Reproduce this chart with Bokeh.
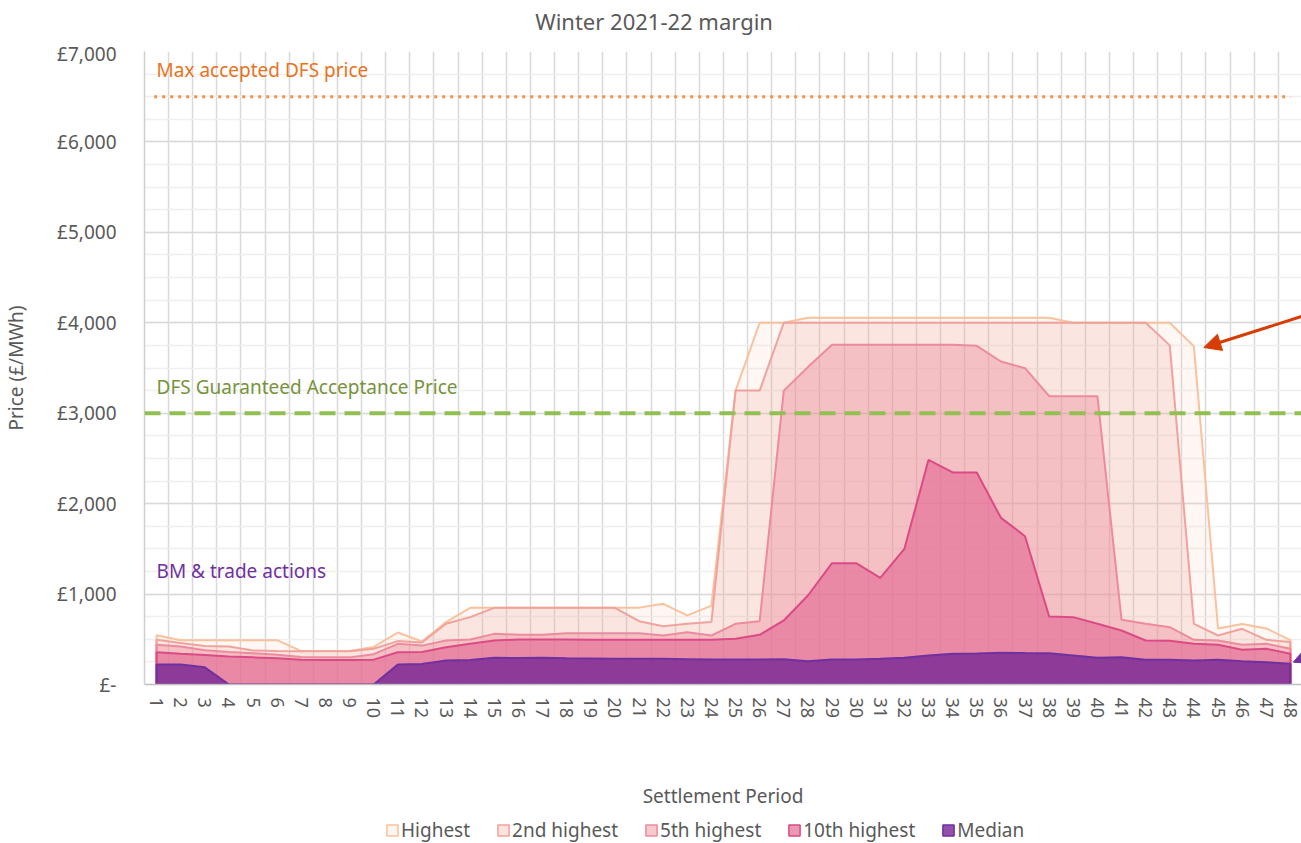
from bokeh.plotting import figure
from bokeh.layouts import column
from bokeh.models import (FixedTicker, Label, Arrow, NormalHead, Legend, LegendItem,
                          Range1d, Span)
from bokeh.embed import file_html
from bokeh.resources import INLINE

# ---------------- data ----------------
periods = list(range(1, 49))

highest = [545, 490, 490, 490, 490, 490, 370, 370, 370, 415, 575, 475,
           690, 848, 848, 848, 848, 848, 848, 848, 850, 892, 765, 873,
           3250, 4000, 4000, 4055, 4055, 4055, 4055, 4055, 4055, 4055, 4055, 4055,
           4055, 4055, 4000, 4000, 4000, 4000, 4000, 3740, 620, 670, 620, 490]

second = [495, 460, 425, 420, 375, 370, 368, 368, 368, 395, 480, 465,
          671, 745, 848, 848, 848, 848, 848, 848, 700, 645, 671, 690,
          3250, 3250, 4000, 4000, 4000, 4000, 4000, 4000, 4000, 4000, 4000, 4000,
          4000, 4000, 4000, 4000, 4000, 4000, 3750, 671, 542, 616, 494, 470]

fifth = [440, 420, 380, 360, 345, 330, 305, 300, 300, 335, 450, 430,
         487, 498, 560, 550, 550, 568, 568, 568, 568, 542, 579, 542,
         671, 700, 3250, 3510, 3757, 3757, 3757, 3757, 3757, 3757, 3745, 3572,
         3498, 3188, 3188, 3188, 715, 671, 634, 494, 487, 439, 450, 395]

tenth = [357, 340, 325, 310, 300, 290, 275, 270, 270, 275, 357, 360,
         413, 450, 487, 498, 498, 498, 495, 494, 494, 494, 494, 494,
         505, 549, 708, 984, 1342, 1342, 1180, 1500, 2485, 2345, 2345, 1843,
         1640, 752, 745, 671, 597, 487, 483, 450, 439, 384, 395, 339]

median = [221, 221, 190, 0, 0, 0, 0, 0, 0, 0, 221, 228,
          265, 270, 295, 292, 295, 290, 288, 285, 284, 284, 280, 276,
          276, 276, 278, 256, 276, 276, 284, 295, 321, 339, 342, 350,
          347, 345, 321, 295, 302, 275, 273, 266, 273, 258, 247, 229]

series_names = ["Highest", "2nd highest", "5th highest", "10th highest", "Median"]

y_ticks = [0, 1000, 2000, 3000, 4000, 5000, 6000, 7000]
y_tick_labels = ["£-", "£1,000", "£2,000", "£3,000", "£4,000", "£5,000", "£6,000", "£7,000"]

max_dfs_price = 6500
guaranteed_price = 3000

chart_title = "Winter 2021-22 margin"

# ---------------- styles ----------------
FONT = "Noto Sans"
GREY = "#595959"
line_colors = ["#F9C29C", "#F2A29C", "#EE8A9E", "#DC4A86", "#7030A0"]
fill_colors = ["#F8C8B0", "#EB968C", "#EB8296", "#E15A8C", "#7D2D96"]
fill_alphas = [0.15, 0.18, 0.37, 0.54, 0.85]
legend_fills = ["#FDF5F0", "#FBE3DF", "#F6C9CF", "#EB98B3", "#9650AA"]

X_RANGE = (0.5, 48.46)
FRAME_W = 1301 - 143


def strip_figure(height):
    f = figure(width=1301, height=height, x_range=Range1d(*X_RANGE), y_range=Range1d(0, 1),
               output_backend="svg", toolbar_location=None, min_border=0)
    f.axis.visible = False
    f.grid.visible = False
    f.outline_line_color = None
    return f


# ---------------- title strip ----------------
title_fig = strip_figure(40)
title_center_x = X_RANGE[0] + (653 - 143) * (X_RANGE[1] - X_RANGE[0]) / FRAME_W
title_fig.add_layout(Label(x=title_center_x, y=0.5, text=chart_title,
                           text_font=FONT, text_font_size="22px", text_color=GREY,
                           text_align="center", text_baseline="middle"))

# ---------------- main chart ----------------
p = figure(width=1301, height=775,
           x_range=Range1d(*X_RANGE), y_range=Range1d(0, 7000),
           output_backend="svg", toolbar_location=None,
           min_border_left=143, min_border_right=0,
           min_border_top=11, min_border_bottom=131)
p.outline_line_color = None

# axes
p.xaxis.ticker = FixedTicker(ticks=periods)
p.xaxis.major_label_orientation = "vertical"
p.xaxis.major_label_text_font = FONT
p.xaxis.major_label_text_font_size = "18px"
p.xaxis.major_label_text_color = GREY
p.xaxis.major_label_standoff = 7
p.xaxis.major_tick_line_color = None
p.xaxis.minor_tick_line_color = None
p.xaxis.axis_line_color = "#BFBFBF"
p.xaxis.axis_line_width = 1.5
p.xaxis.axis_label = "Settlement Period"
p.xaxis.axis_label_text_font = FONT
p.xaxis.axis_label_text_font_size = "19px"
p.xaxis.axis_label_text_font_style = "normal"
p.xaxis.axis_label_text_color = GREY
p.xaxis.axis_label_standoff = 62

p.yaxis.ticker = FixedTicker(ticks=y_ticks, minor_ticks=list(range(0, 7001, 250)))
p.yaxis.major_label_overrides = {t: l for t, l in zip(y_ticks, y_tick_labels)}
p.yaxis.major_label_text_font = FONT
p.yaxis.major_label_text_font_size = "19px"
p.yaxis.major_label_text_color = GREY
p.yaxis.major_label_standoff = 22
p.yaxis.major_tick_line_color = None
p.yaxis.minor_tick_line_color = None
p.yaxis.axis_line_color = "#CFCFCF"
p.yaxis.axis_line_width = 1.5
p.yaxis.axis_label = "Price (£/MWh)"
p.yaxis.axis_label_text_font = FONT
p.yaxis.axis_label_text_font_size = "19px"
p.yaxis.axis_label_text_font_style = "normal"
p.yaxis.axis_label_text_color = GREY
p.yaxis.axis_label_standoff = 25

# grids
p.xgrid.ticker = FixedTicker(ticks=[c - 0.5 for c in periods] + [periods[-1] + 0.5])
p.xgrid.grid_line_color = "#D9D9D9"
p.xgrid.grid_line_width = 1.5
p.ygrid.grid_line_color = "#D9D9D9"
p.ygrid.grid_line_width = 1.5
p.ygrid.minor_grid_line_color = "#EFEFEF"
p.ygrid.minor_grid_line_width = 1.5

# areas (highest at the back, median at the front)
all_series = [highest, second, fifth, tenth, median]
xs = [periods[0]] + periods + [periods[-1]]
for vals, lc, fc, fa in zip(all_series, line_colors, fill_colors, fill_alphas):
    ys = [0] + list(vals) + [0]
    p.patch(xs, ys, fill_color=fc, fill_alpha=fa, line_color=lc, line_width=2)

# reference lines
p.line([periods[0] - 0.1, periods[-1]], [max_dfs_price, max_dfs_price],
       line_color="#F0944A", line_width=3, line_dash="3 5")
p.add_layout(Span(location=guaranteed_price, dimension="width",
                  line_color="#92C050", line_width=4, line_dash="16 9"))

# annotation texts
p.add_layout(Label(x=periods[0], y=max_dfs_price + 290, text="Max accepted DFS price",
                   text_font=FONT, text_font_size="19px", text_color="#E8731E",
                   text_baseline="middle"))
p.add_layout(Label(x=periods[0], y=guaranteed_price + 285, text="DFS Guaranteed Acceptance Price",
                   text_font=FONT, text_font_size="19px", text_color="#77933C",
                   text_baseline="middle"))
p.add_layout(Label(x=periods[0], y=1250, text="BM & trade actions",
                   text_font=FONT, text_font_size="19px", text_color="#7030A0",
                   text_baseline="middle"))

# arrow pointing at period 44 highest
p.add_layout(Arrow(end=NormalHead(size=17, fill_color="#D83C05", line_color="#D83C05"),
                   x_start=48.46, y_start=4070, x_end=44.41, y_end=3727,
                   line_color="#D83C05", line_width=3))
# small purple arrow head entering from the right edge towards the median
p.add_layout(Arrow(end=NormalHead(size=14, fill_color="#7030A0", line_color="#7030A0"),
                   x_start=52.6, y_start=745, x_end=48.12, y_end=247,
                   line_color="#7030A0", line_width=2))

# ---------------- legend strip ----------------
legend_fig = strip_figure(28)
nan = float("nan")
items = []
for name, lc, lf in zip(series_names, line_colors, legend_fills):
    r = legend_fig.quad(left=[nan], right=[nan], top=[nan], bottom=[nan],
                        fill_color=lf, line_color=lc, line_width=1.5)
    items.append(LegendItem(label=name, renderers=[r]))
legend = Legend(items=items, orientation="horizontal", location=(241, 0),
                label_text_font=FONT, label_text_font_size="19px", label_text_color=GREY,
                glyph_width=14, glyph_height=14, spacing=26, label_standoff=2,
                padding=0, margin=0, border_line_color=None, background_fill_alpha=0)
legend_fig.add_layout(legend)

open("out.html", "w").write(file_html(column(title_fig, p, legend_fig, spacing=0), INLINE))
